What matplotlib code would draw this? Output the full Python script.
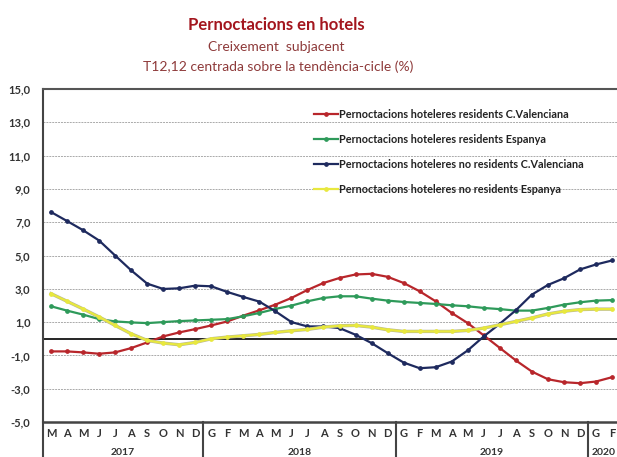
import matplotlib.pyplot as plt
from matplotlib.lines import Line2D

# months from March 2017 to February 2020
MONTHS = ['M', 'A', 'M', 'J', 'J', 'A', 'S', 'O', 'N', 'D',
          'G', 'F', 'M', 'A', 'M', 'J', 'J', 'A', 'S', 'O', 'N', 'D',
          'G', 'F', 'M', 'A', 'M', 'J', 'J', 'A', 'S', 'O', 'N', 'D',
          'G', 'F']
YEARS = ['2017', '2018', '2019', '2020']
YEAR_COUNTS = [10, 12, 12, 2]

RES_CV = [-0.76, -0.76, -0.82, -0.90, -0.82, -0.56, -0.22, 0.14, 0.38, 0.58,
          0.80, 1.04, 1.39, 1.71, 2.05, 2.45, 2.93, 3.35, 3.65, 3.86, 3.90, 3.72,
          3.35, 2.85, 2.25, 1.55, 0.94, 0.20, -0.55, -1.30, -1.97, -2.43, -2.61, -2.67,
          -2.57, -2.31]
RES_ES = [1.95, 1.69, 1.45, 1.18, 1.04, 0.98, 0.94, 1.00, 1.06, 1.10,
          1.14, 1.18, 1.35, 1.55, 1.79, 1.99, 2.25, 2.45, 2.55, 2.55, 2.41, 2.29,
          2.21, 2.15, 2.09, 2.01, 1.95, 1.85, 1.78, 1.69, 1.69, 1.85, 2.05, 2.19,
          2.29, 2.32]
NORES_CV = [7.61, 7.07, 6.52, 5.90, 5.00, 4.11, 3.31, 2.99, 3.03, 3.19,
            3.15, 2.81, 2.51, 2.23, 1.65, 1.00, 0.74, 0.74, 0.64, 0.24, -0.26, -0.86,
            -1.43, -1.77, -1.71, -1.37, -0.70, 0.14, 0.90, 1.71, 2.65, 3.23, 3.63, 4.16,
            4.46, 4.70]
NORES_ES = [2.71, 2.25, 1.79, 1.31, 0.80, 0.30, -0.10, -0.26, -0.36, -0.22,
            0.00, 0.10, 0.18, 0.26, 0.38, 0.48, 0.56, 0.70, 0.78, 0.80, 0.70, 0.54,
            0.44, 0.44, 0.44, 0.44, 0.50, 0.64, 0.84, 1.04, 1.25, 1.49, 1.65, 1.75,
            1.78, 1.78]

SERIES = [RES_CV, RES_ES, NORES_CV, NORES_ES]
NAMES = ['Pernoctacions hoteleres residents C.Valenciana',
         'Pernoctacions hoteleres residents Espanya',
         'Pernoctacions hoteleres no residents C.Valenciana',
         'Pernoctacions hoteleres no residents Espanya']
COLORS = ['#B8262B', '#2E9A5A', '#1E2A5E', '#E8E83E']

YTICKS = [-5, -3, -1, 1, 3, 5, 7, 9, 11, 13, 15]

plt.rcParams['font.family'] = ['Lato', 'DejaVu Sans']

W, H = 617, 457
fig = plt.figure(figsize=(W / 100, H / 100), dpi=100)
ax_left, ax_right, ax_top, ax_bot = 43, 620, 89, 422
ax = fig.add_axes([ax_left / W, 1 - ax_bot / H, (ax_right - ax_left) / W, (ax_bot - ax_top) / H])

x = list(range(len(MONTHS)))
for vals, name, color in zip(SERIES, NAMES, COLORS):
    if name.endswith('no residents Espanya'):
        # pale yellow line has a grey rim
        ax.plot(x, vals, '-', color='#B8B898', lw=2.4, zorder=3)
    ax.plot(x, vals, '-o', color=color, lw=1.6, ms=2.4, label=name, zorder=3)

ax.set_xlim(-0.5, len(MONTHS) - 0.5)
ax.set_ylim(-5, 15)
ax.set_yticks(YTICKS)
ax.set_yticklabels([('%.1f' % v).replace('.', ',') for v in YTICKS],
                   fontsize=8, fontweight='bold', color='#333333')
ax.tick_params(axis='y', length=0, pad=9)
ax.set_xticks([])
ax.yaxis.grid(True, color='#aaaaaa', linestyle=(0, (2, 1)), linewidth=0.7)
ax.axhline(0, color='black', lw=1.2, zorder=2)

ax.spines['right'].set_visible(False)
ax.spines['top'].set_color('#555555')
ax.spines['top'].set_linewidth(1.5)
ax.spines['left'].set_color('#444444')
ax.spines['left'].set_linewidth(1.5)
ax.spines['bottom'].set_color('#444444')
ax.spines['bottom'].set_linewidth(1.8)

# category labels under the axis
trans = ax.get_xaxis_transform()
for i, m in enumerate(MONTHS):
    ax.text(i, -0.035, m, transform=trans, ha='center', va='center',
            fontsize=8, fontweight='bold', color='#333333')
start = 0
for year, n in zip(YEARS, YEAR_COUNTS):
    ax.text(start + (n - 1) / 2, -0.093, year, transform=trans, ha='center',
            va='center', fontsize=7.5, fontweight='bold', color='#333333')
    start += n
    if start < len(MONTHS):
        ax.add_line(Line2D([start - 0.5, start - 0.5], [0, -0.11], transform=trans,
                           color='#444444', lw=1.5, clip_on=False))
ax.add_line(Line2D([-0.5, -0.5], [0, -0.11], transform=trans,
                   color='#444444', lw=1.5, clip_on=False))

handles, labels = ax.get_legend_handles_labels()
leg = ax.legend(handles, labels, loc='upper left', bbox_to_anchor=(304 / W, 1 - 99 / H),
                bbox_transform=fig.transFigure, frameon=False, fontsize=7.8,
                handlelength=2.2, handletextpad=0.1, labelspacing=1.3)
for t in leg.get_texts():
    t.set_color('#222222')
    t.set_fontweight('bold')

fig.text(276 / W, 1 - 25 / H, 'Pernoctacions en hotels', ha='center', va='center',
         fontsize=12, fontweight='bold', color='#A3161E')
fig.text(276 / W, 1 - 47 / H, 'Creixement  subjacent', ha='center', va='center',
         fontsize=10, color='#8E3A3A')
fig.text(278 / W, 1 - 67 / H, 'T12,12 centrada sobre la tendència-cicle (%)',
         ha='center', va='center', fontsize=10, color='#8E3A3A')

fig.savefig('out.png', dpi=100)
